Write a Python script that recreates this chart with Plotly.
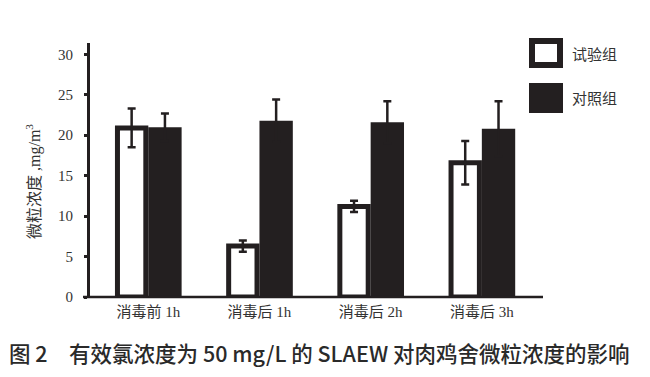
import plotly.graph_objects as go

categories = ["消毒前 1h", "消毒后 1h", "消毒后 2h", "消毒后 3h"]
test_vals = [20.9, 6.3, 11.2, 16.6]
test_sd = [2.4, 0.7, 0.7, 2.7]
ctrl_vals = [21.0, 21.8, 21.6, 20.8]
ctrl_sd = [1.7, 2.6, 2.6, 3.4]
y_ticks = [0, 5, 10, 15, 20, 25, 30]
legend_names = ["试验组", "对照组"]

INK = "#231f20"
SERIF = "Liberation Serif, Noto Sans CJK SC"

fig = go.Figure()
fig.add_trace(go.Bar(
    x=categories, y=test_vals, name=legend_names[0],
    offset=-0.277, width=0.255,
    marker=dict(color="white", line=dict(color=INK, width=5)),
    error_y=dict(type="data", array=test_sd, visible=True, color=INK, thickness=2.5, width=4),
    showlegend=False,
))
fig.add_trace(go.Bar(
    x=categories, y=ctrl_vals, name=legend_names[1],
    offset=0.0, width=0.3,
    marker=dict(color=INK, line=dict(width=0)),
    error_y=dict(type="data", array=ctrl_sd, visible=True, color=INK, thickness=2.5, width=4),
    showlegend=False,
))

L, R, T, B = 90, 107, 43, 80
W = 650 - L - R
H = 377 - T - B

def px(x):
    return (x - L) / W

def py(y):
    return (377 - B - y) / H

shapes = [
    dict(type="line", xref="paper", yref="paper", x0=px(83), x1=1, y0=0, y1=0,
         line=dict(color=INK, width=2.5), layer="above"),
    dict(type="rect", xref="paper", yref="paper", x0=px(532), x1=px(560), y0=py(65), y1=py(41),
         fillcolor="white", line=dict(color=INK, width=6)),
    dict(type="rect", xref="paper", yref="paper", x0=px(529), x1=px(563), y0=py(113), y1=py(83),
         fillcolor=INK, line=dict(width=0)),
]

annotations = [
    dict(text=legend_names[0], xref="paper", yref="paper", x=px(570), y=py(53), xanchor="left",
         yanchor="middle", showarrow=False, font=dict(family="Noto Sans CJK SC", size=15, color="#333")),
    dict(text=legend_names[1], xref="paper", yref="paper", x=px(570), y=py(98), xanchor="left",
         yanchor="middle", showarrow=False, font=dict(family="Noto Sans CJK SC", size=15, color="#333")),
    dict(text="微粒浓度 ,mg/m<sup>3</sup>", xref="paper", yref="paper", x=px(33), y=py(182),
         xanchor="center", yanchor="middle", textangle=-90, showarrow=False,
         font=dict(family=SERIF, size=16, color="#333")),
    dict(text="图 2\u3000有效氯浓度为 50 mg/L 的 SLAEW 对肉鸡舍微粒浓度的影响", xref="paper", yref="paper",
         x=px(7), y=py(352), xanchor="left", yanchor="middle", showarrow=False,
         font=dict(family="Noto Sans CJK SC", size=21.5, color="#2a2a2a", weight=500)),
]

fig.update_layout(
    width=650, height=377,
    margin=dict(l=L, r=R, t=T, b=B, pad=0),
    paper_bgcolor="white", plot_bgcolor="white",
    barmode="overlay",
    shapes=shapes, annotations=annotations,
    xaxis=dict(range=[-0.524, 3.55], showgrid=False, zeroline=False, showline=False,
               ticks="", tickfont=dict(family=SERIF, size=15, color="#333"),
               ticklabelstandoff=4),
    yaxis=dict(range=[0, 31.4], tickvals=y_ticks, showgrid=False, zeroline=False,
               showline=True, linecolor=INK, linewidth=3,
               ticks="outside", ticklen=3, tickwidth=2.5, tickcolor=INK,
               tickfont=dict(family=SERIF, size=15, color="#333"),
               ticklabelstandoff=8),
)

fig.write_html("out.html", config={"displayModeBar": False},
               post_script="document.body.style.margin='0';document.body.style.overflow='hidden';")
